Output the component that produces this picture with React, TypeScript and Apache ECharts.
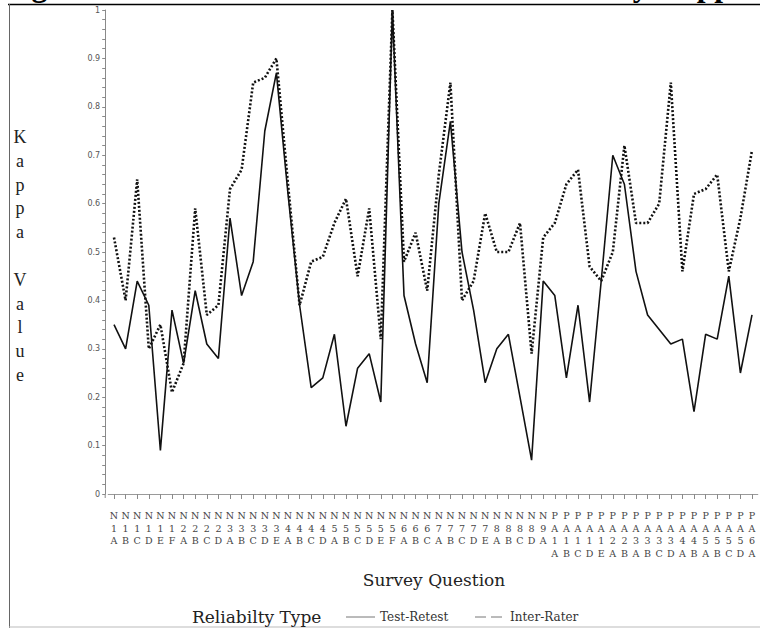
import React, { useEffect, useRef } from 'react';
import * as echarts from 'echarts';

const questions = [
  'N1A', 'N1B', 'N1C', 'N1D', 'N1E', 'N1F',
  'N2A', 'N2B', 'N2C', 'N2D',
  'N3A', 'N3B', 'N3C', 'N3D', 'N3E',
  'N4A', 'N4B', 'N4C', 'N4D',
  'N5A', 'N5B', 'N5C', 'N5D', 'N5E', 'N5F',
  'N6A', 'N6B', 'N6C',
  'N7A', 'N7B', 'N7C', 'N7D', 'N7E',
  'N8A', 'N8B', 'N8C', 'N8D',
  'N9A',
  'PA1A', 'PA1B', 'PA1C', 'PA1D', 'PA1E',
  'PA2A', 'PA2B',
  'PA3A', 'PA3B', 'PA3C', 'PA3D',
  'PA4A', 'PA4B',
  'PA5A', 'PA5B', 'PA5C', 'PA5D',
  'PA6A',
];

const testRetest = [
  0.35, 0.30, 0.44, 0.39, 0.09, 0.38, 0.27, 0.42, 0.31, 0.28,
  0.57, 0.41, 0.48, 0.75, 0.87, 0.62, 0.39, 0.22, 0.24, 0.33,
  0.14, 0.26, 0.29, 0.19, 1.00, 0.41, 0.31, 0.23, 0.60, 0.77,
  0.50, 0.38, 0.23, 0.30, 0.33, 0.20, 0.07, 0.44, 0.41, 0.24,
  0.39, 0.19, 0.44, 0.70, 0.64, 0.46, 0.37, 0.34, 0.31, 0.32,
  0.17, 0.33, 0.32, 0.45, 0.25, 0.37,
];

const interRater = [
  0.53, 0.40, 0.65, 0.30, 0.35, 0.21, 0.27, 0.59, 0.37, 0.39,
  0.63, 0.67, 0.85, 0.86, 0.90, 0.64, 0.39, 0.48, 0.49, 0.56,
  0.61, 0.45, 0.59, 0.32, 1.00, 0.48, 0.54, 0.42, 0.66, 0.85,
  0.40, 0.44, 0.58, 0.50, 0.50, 0.56, 0.29, 0.53, 0.56, 0.64,
  0.67, 0.47, 0.44, 0.50, 0.72, 0.56, 0.56, 0.60, 0.85, 0.46,
  0.62, 0.63, 0.66, 0.46, 0.57, 0.71,
];

const titleText = 'Figure 1. Test-Retest and Inter-Rater Reliability Kappa Values by Survey Question';
const yTitle = 'Kappa Value';
const xTitle = 'Survey Question';
const legendTitle = 'Reliabilty Type';
const seriesNames = ['Test-Retest', 'Inter-Rater'];

export default function App() {
  const ref = useRef<HTMLDivElement>(null);

  useEffect(() => {
    document.body.style.margin = '0';
    const chart = echarts.init(ref.current as HTMLDivElement, null, { renderer: 'svg' });
    const serif = 'DejaVu Serif';
    chart.setOption({
      animation: false,
      backgroundColor: '#ffffff',
      grid: { left: 108.2, right: 2.2, top: 10, bottom: 134, containLabel: false },
      xAxis: {
        type: 'category',
        data: questions,
        boundaryGap: true,
        offset: 4,
        axisLine: { show: true, lineStyle: { color: '#9a9a9a', width: 1 } },
        axisTick: { show: true, alignWithLabel: true, interval: 0, length: 5, lineStyle: { color: '#8a8a8a' } },
        axisLabel: {
          interval: 0,
          margin: 11,
          fontFamily: serif,
          fontSize: 9.5,
          lineHeight: 12.7,
          color: '#444',
          formatter: (v: string) => v.split('').join('\n'),
        },
        splitLine: { show: false },
      },
      yAxis: {
        type: 'value',
        min: 0,
        max: 1,
        interval: 0.1,
        offset: 3,
        axisLine: { show: true, lineStyle: { color: '#8a8a8a', width: 1 } },
        axisTick: { show: true, length: 3, lineStyle: { color: '#8a8a8a' } },
        minorTick: { show: true, splitNumber: 5, length: 3, lineStyle: { color: '#8a8a8a' } },
        splitLine: { show: false },
        axisLabel: {
          margin: 5,
          fontFamily: 'DejaVu Sans',
          fontSize: 8,
          color: '#555',
          formatter: (v: number) => String(parseFloat(v.toFixed(1))),
        },
      },
      series: [
        {
          type: 'line',
          name: seriesNames[0],
          data: testRetest,
          symbol: 'none',
          z: 3,
          lineStyle: { color: '#111', width: 1.6 },
        },
        {
          type: 'line',
          name: seriesNames[1],
          data: interRater,
          symbol: 'none',
          z: 2,
          lineStyle: { color: '#111', width: 2.6, type: [2, 2] },
        },
      ],
      graphic: [
        {
          type: 'text',
          x: 3.5,
          y: -14.5,
          style: {
            text: titleText,
            fontFamily: 'Liberation Serif',
            fontWeight: 'bold',
            fontSize: 31.5,
            fill: '#000',
            align: 'left',
            verticalAlign: 'middle',
          },
        },
        { type: 'line', shape: { x1: 8, y1: 4.5, x2: 760, y2: 4.5 }, style: { stroke: '#000', lineWidth: 1.5 } },
        { type: 'line', shape: { x1: 9.5, y1: 4, x2: 9.5, y2: 628 }, style: { stroke: '#666', lineWidth: 1 } },
        { type: 'line', shape: { x1: 9, y1: 627, x2: 760, y2: 627 }, style: { stroke: '#bbb', lineWidth: 1 } },
        { type: 'line', shape: { x1: 105.2, y1: 494, x2: 105.2, y2: 498 }, style: { stroke: '#8a8a8a', lineWidth: 1 } },
        {
          type: 'text',
          x: 20,
          y: 256,
          style: {
            text: yTitle.split('').join('\n'),
            fontFamily: 'Liberation Serif',
            fontSize: 18,
            lineHeight: 23.8,
            fill: '#222',
            align: 'center',
            verticalAlign: 'middle',
          },
        },
        {
          type: 'text',
          x: 434,
          y: 580,
          style: { text: xTitle, fontFamily: serif, fontSize: 17, fill: '#222', align: 'center', verticalAlign: 'middle' },
        },
        {
          type: 'text',
          x: 192,
          y: 617,
          style: { text: legendTitle, fontFamily: serif, fontSize: 17, fill: '#222', align: 'left', verticalAlign: 'middle' },
        },
        { type: 'line', shape: { x1: 346, y1: 617, x2: 375, y2: 617 }, style: { stroke: '#777', lineWidth: 1 } },
        {
          type: 'text',
          x: 380,
          y: 617,
          style: { text: seriesNames[0], fontFamily: serif, fontSize: 12, fill: '#333', align: 'left', verticalAlign: 'middle' },
        },
        { type: 'line', shape: { x1: 475, y1: 617, x2: 502, y2: 617 }, style: { stroke: '#777', lineWidth: 1, lineDash: [11, 5] } },
        {
          type: 'text',
          x: 510,
          y: 617,
          style: { text: seriesNames[1], fontFamily: serif, fontSize: 12, fill: '#333', align: 'left', verticalAlign: 'middle' },
        },
      ],
    });
    return () => chart.dispose();
  }, []);

  return <div ref={ref} style={{ width: 760, height: 628, background: '#fff' }} />;
}
